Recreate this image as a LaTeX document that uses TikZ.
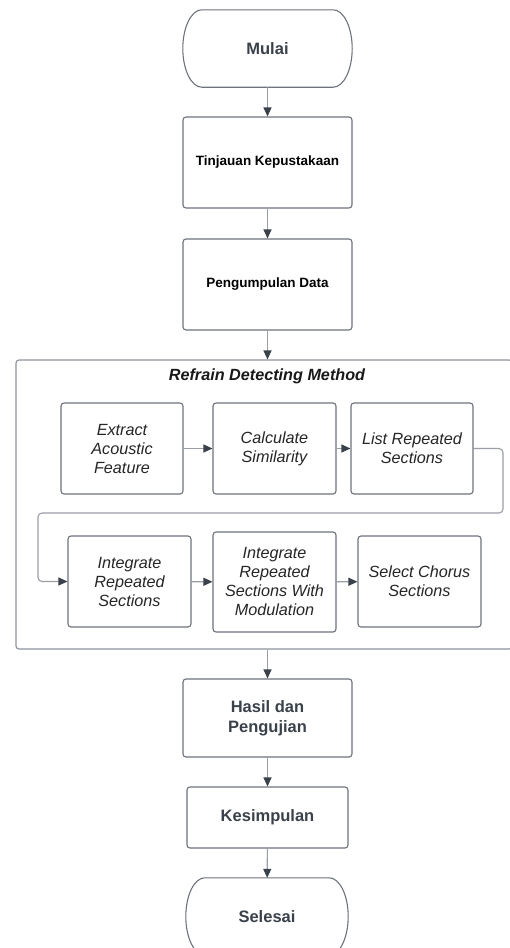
\documentclass[tikz,border=0pt]{standalone}
\usepackage{fontspec}
\setmainfont{Liberation Sans}
\usetikzlibrary{arrows.meta,shapes.misc}
\definecolor{txt}{HTML}{3A414A}
\definecolor{bordc}{HTML}{6E737B}
\definecolor{linec}{HTML}{9A9EA5}
\definecolor{contc}{HTML}{8E9299}
\tikzset{
  boxA/.style={draw=bordc, line width=1.1pt, rounded corners=3pt, align=center, inner sep=2pt, text=txt},
  termA/.style={rectangle, align=center, text=txt, inner sep=0pt},
  termline/.style={draw=bordc, line width=1.1pt},
  bigb/.style={font=\fontsize{16.5}{20}\selectfont\bfseries},
  smallb/.style={font=\fontsize{13.5}{16}\selectfont\bfseries, text=black},
  itl/.style={font=\fontsize{16.2}{19}\selectfont\itshape, text=black!85},
  conn/.style={draw=linec, line width=1.1pt, -{Triangle[length=9pt,width=8pt,fill=txt,color=txt]}},
  loopc/.style={draw=linec, line width=1.1pt, rounded corners=4pt, -{Triangle[length=9pt,width=8pt,fill=txt,color=txt]}},
}
\newcommand\mytermpath[1]{%
  \draw[termline] ([xshift=-19pt]#1.north east) .. controls +(10.5,0) and +(0,-21.25) .. (#1.east)
    .. controls +(0,21.25) and +(10.5,0) .. ([xshift=-19pt]#1.south east)
    -- ([xshift=19pt]#1.south west) .. controls +(-10.5,0) and +(0,21.25) .. (#1.west)
    .. controls +(0,-21.25) and +(-10.5,0) .. ([xshift=19pt]#1.north west) -- cycle;}
\begin{document}
\begin{tikzpicture}[x=1pt,y=-1pt]
\useasboundingbox (0,0) rectangle (509,948);
\fill[white] (0,0) rectangle (509,948);
% container
\node (rdm) [draw=contc, line width=1.1pt, rounded corners=3pt, minimum width=496pt, minimum height=289pt, inner sep=0pt] at (264,504.5) {};
\node (ttl) [font=\fontsize{16.2}{19}\selectfont\bfseries\itshape, text=black!90] at (267,376) {Refrain Detecting Method};
% main column
\node (mulai) [termA, bigb, minimum width=169pt, minimum height=77pt] at (267.5,48.5) {Mulai};
\mytermpath{mulai}
\node (tk) [boxA, smallb, minimum width=169pt, minimum height=91pt] at (267.5,162.5) {Tinjauan Kepustakaan};
\node (pd) [boxA, smallb, minimum width=169pt, minimum height=91pt] at (267.5,284.5) {Pengumpulan Data};
\node (hp) [boxA, bigb, minimum width=169pt, minimum height=78pt] at (267.5,718) {Hasil dan\\Pengujian};
\node (ks) [boxA, bigb, minimum width=161pt, minimum height=61pt] at (267.5,817.5) {Kesimpulan};
\node (sl) [termA, bigb, minimum width=162pt, minimum height=77pt] at (267,916.5) {Selesai};
\mytermpath{sl}
% inner row 1
\node (eaf) [boxA, itl, minimum width=122pt, minimum height=91pt] at (122,448.5) {Extract\\Acoustic\\Feature};
\node (cs) [boxA, itl, minimum width=123pt, minimum height=91pt] at (274.5,448.5) {Calculate\\Similarity};
\node (lrs) [boxA, itl, minimum width=122pt, minimum height=91pt] at (412,448.5) {List Repeated\\Sections};
% inner row 2
\node (irs) [boxA, itl, minimum width=123pt, minimum height=91pt] at (129.5,581.5) {Integrate\\Repeated\\Sections};
\node (irsm) [boxA, itl, minimum width=123pt, minimum height=100pt] at (274.5,582) {Integrate\\Repeated\\Sections With\\Modulation};
\node (scs) [boxA, itl, minimum width=123pt, minimum height=91pt] at (419.5,581.5) {Select Chorus\\Sections};
% connectors
\draw[conn] (mulai) -- (tk);
\draw[conn] (tk) -- (pd);
\draw[conn] (pd.south) -- (pd.south |- rdm.north);
\draw[conn] (pd.south |- rdm.south) -- (hp.north);
\draw[conn] (hp) -- (ks);
\draw[conn] (ks) -- (sl);
\draw[conn] (eaf) -- (cs);
\draw[conn] (cs) -- (lrs);
\coordinate (c1) at (503,513);
\coordinate (c2) at (38,581.5);
\draw[loopc] (lrs.east) -| (c1) -| (c2) -- (irs.west);
\draw[conn] (irs) -- (irsm);
\draw[conn] (irsm) -- (scs);
\end{tikzpicture}
\end{document}
